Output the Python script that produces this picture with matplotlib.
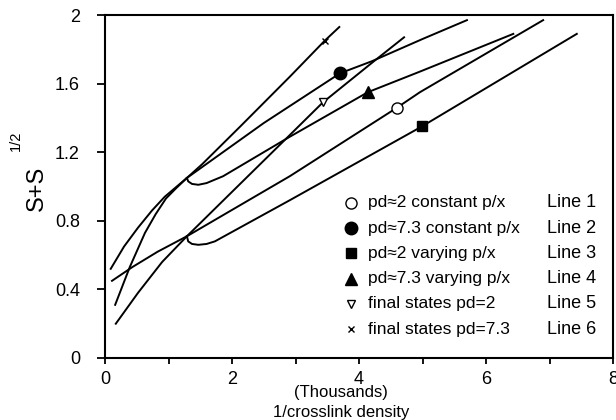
import matplotlib
matplotlib.use("Agg")
import matplotlib.pyplot as plt

plt.rcParams['font.family'] = ['Liberation Sans', 'DejaVu Sans']

# line 1: pd~2 constant p/x
line1_x = [0.11, 0.43, 0.83, 1.29, 2.91, 4.60, 4.96, 6.90]
line1_y = [0.45, 0.53, 0.62, 0.71, 1.06, 1.46, 1.55, 1.97]
# line 2: pd~7.3 constant p/x
line2_x = [0.09, 0.30, 0.52, 0.74, 0.94, 1.29, 2.50, 3.70, 4.20, 5.00, 5.70]
line2_y = [0.52, 0.65, 0.76, 0.86, 0.94, 1.05, 1.37, 1.66, 1.73, 1.86, 1.97]
# line 3: pd~2 varying p/x (starts at lower crossing)
line3_x = [1.29, 1.31, 1.37, 1.47, 1.60, 1.73, 2.91, 4.99, 7.43]
line3_y = [0.71, 0.68, 0.665, 0.66, 0.665, 0.68, 0.92, 1.35, 1.89]
# line 4: pd~7.3 varying p/x (starts at upper crossing)
line4_x = [1.29, 1.31, 1.37, 1.47, 1.60, 1.86, 2.91, 4.14, 4.96, 6.43]
line4_y = [1.05, 1.03, 1.015, 1.01, 1.02, 1.06, 1.29, 1.55, 1.67, 1.89]
# line 5: final states pd=2
line5_x = [0.17, 0.52, 0.90, 1.29, 2.91, 3.43, 4.20, 4.71]
line5_y = [0.20, 0.38, 0.56, 0.71, 1.30, 1.49, 1.72, 1.87]
# line 6: final states pd=7.3
line6_x = [0.16, 0.39, 0.63, 0.80, 0.96, 1.12, 1.29, 1.53, 2.13, 2.91, 3.46, 3.69]
line6_y = [0.31, 0.53, 0.73, 0.84, 0.93, 0.99, 1.05, 1.13, 1.35, 1.64, 1.85, 1.93]

# marked points
mark_x = [4.60, 3.70, 4.99, 4.14, 3.43, 3.46]
mark_y = [1.46, 1.66, 1.35, 1.55, 1.49, 1.85]

labels = ["pd\u22482 constant p/x", "pd\u22487.3 constant p/x", "pd\u22482 varying p/x",
          "pd\u22487.3 varying p/x", "final states pd=2", "final states pd=7.3"]
line_names = ["Line 1", "Line 2", "Line 3", "Line 4", "Line 5", "Line 6"]

markers = [dict(marker='o', mfc='white', ms=8),
           dict(marker='o', mfc='black', ms=9),
           dict(marker='s', mfc='black', ms=7.5),
           dict(marker='^', mfc='black', ms=9),
           dict(marker='v', mfc='white', ms=5.5),
           dict(marker='x', mfc='black', ms=5)]

fig = plt.figure(figsize=(6.16, 4.2), dpi=100)
ax = fig.add_axes([105/616, 62/420, 508/616, 343/420])

lines = [(line1_x, line1_y), (line2_x, line2_y), (line3_x, line3_y),
         (line4_x, line4_y), (line5_x, line5_y), (line6_x, line6_y)]
for (xs, ys) in lines:
    ax.plot(xs, ys, color='black', lw=1.4, solid_joinstyle='round')

for i in range(6):
    ax.plot(mark_x[i], mark_y[i], linestyle='none', mec='black', mew=1.0, **markers[i])

# legend drawn by hand so the "Line N" column lines up
for i in range(6):
    ty = 0.452 - i * 0.0735
    ax.plot(0.484, ty, transform=ax.transAxes, linestyle='none', mec='black',
            mew=1.0, clip_on=False, **markers[i])
    ax.text(0.518, ty, labels[i], transform=ax.transAxes, fontsize=12.5, va='center')
    ax.text(0.870, ty, line_names[i], transform=ax.transAxes, fontsize=13, va='center')

ax.set_xlim(0, 8)
ax.set_ylim(0, 2)
ax.set_xticks([0, 2, 4, 6, 8])
ax.set_xticks([1, 3, 5, 7], minor=True)
ax.set_yticks([0, 0.4, 0.8, 1.2, 1.6, 2])
ax.set_yticklabels(["0", "0.4", "0.8", "1.2", "1.6", "2"])
ax.tick_params(axis='x', which='both', direction='out', length=4, width=1.3, pad=5, labelsize=13)
ax.tick_params(axis='y', direction='out', length=6, width=1.3, pad=12, labelsize=13)
for s in ax.spines.values():
    s.set_linewidth(1.5)

fig.text(37/616, 1 - 188/420, "S+S", rotation=90, fontsize=17, ha='center', va='center')
fig.text(16/616, 1 - 141/420, "1/2", rotation=90, fontsize=10.5, ha='center', va='center')
fig.text(341/616, 1 - 393/420, "(Thousands)", fontsize=12, ha='center', va='center')
fig.text(341/616, 1 - 412/420, "1/crosslink density", fontsize=12, ha='center', va='center')

fig.savefig("out.png", dpi=100)
